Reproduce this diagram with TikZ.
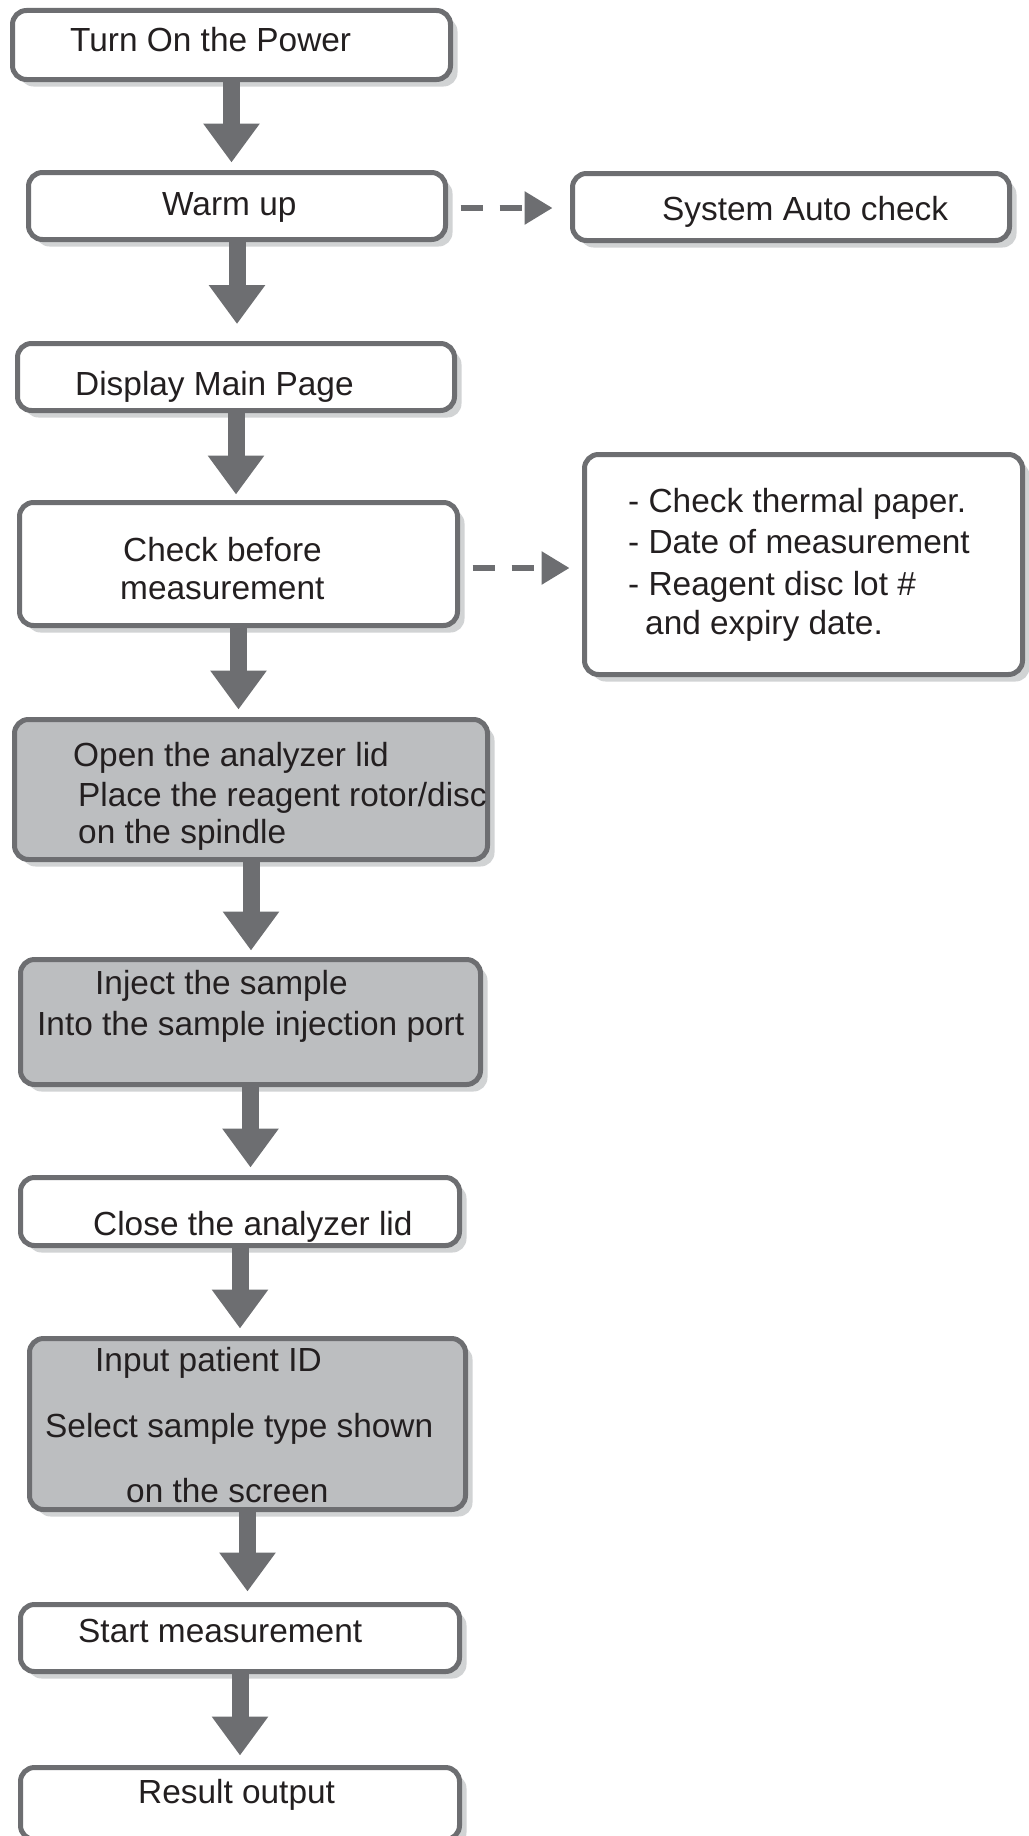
\documentclass[tikz,border=0pt]{standalone}
\usepackage{fontspec}
\setmainfont{Liberation Sans}
\usetikzlibrary{arrows.meta,shadows}
\definecolor{bord}{HTML}{6D6E71}
\definecolor{grayfill}{HTML}{BCBEC0}
\definecolor{shad}{HTML}{D1D3D4}
\definecolor{txt}{HTML}{231F20}
\tikzset{
  wbox/.style={draw=bord, line width=5pt, rounded corners=14pt, fill=white, inner sep=0pt,
    drop shadow={shadow xshift=7pt, shadow yshift=-7pt, fill=shad, opacity=1}},
  gbox/.style={wbox, fill=grayfill},
  lbl/.style={anchor=base west, font=\fontsize{33.4}{39}\selectfont, text=txt, inner sep=0pt},
  flow/.style={draw=bord, line width=17pt, -{Triangle[length=39pt,width=54pt]}},
  sidearrow/.style={draw=bord, line width=6pt, dash pattern=on 22pt off 17pt, -{Triangle[length=28pt,width=32pt]}}
}
\begin{document}
\begin{tikzpicture}[x=1pt,y=-1pt]
\useasboundingbox (0,0) rectangle (1028,1836);
% boxes
\node[wbox, minimum width=438pt, minimum height=69pt] (b1) at (231.5,45) {};
\node[wbox, minimum width=417pt, minimum height=67pt] (b2) at (237,206) {};
\node[wbox, minimum width=437pt, minimum height=67pt] (b3) at (236,377) {};
\node[wbox, minimum width=438pt, minimum height=123pt] (b4) at (238.5,564) {};
\node[gbox, minimum width=473pt, minimum height=140pt] (b5) at (251,789.5) {};
\node[gbox, minimum width=460pt, minimum height=125pt] (b6) at (250.5,1022) {};
\node[wbox, minimum width=439pt, minimum height=68pt] (b7) at (240,1211.5) {};
\node[gbox, minimum width=436pt, minimum height=171pt] (b8) at (247.5,1424) {};
\node[wbox, minimum width=439pt, minimum height=67pt] (b9) at (240,1638) {};
\node[wbox, minimum width=439pt, minimum height=72pt] (b10) at (240,1803.5) {};
\node[wbox, minimum width=437pt, minimum height=67pt] (sac) at (791,207) {};
\node[wbox, minimum width=438pt, minimum height=220pt] (rb) at (803.5,564.5) {};
% texts
\node[lbl] (t1) at (70,52) {Turn On the Power};
\node[lbl] (t2) at (162,215) {Warm up};
\node[lbl] (t3) at (75,395) {Display Main Page};
\node[lbl] (t4a) at (123,561) {Check before};
\node[lbl] (t4b) at (120,599) {measurement};
\node[lbl] (t5a) at (73,766) {Open the analyzer lid};
\node[lbl] (t5b) at (78,806) {Place the reagent rotor/disc};
\node[lbl] (t5c) at (78,843) {on the spindle};
\node[lbl] (t6a) at (95,994) {Inject the sample};
\node[lbl] (t6b) at (37,1035) {Into the sample injection port};
\node[lbl] (t7) at (93,1235) {Close the analyzer lid};
\node[lbl] (t8a) at (95,1371) {Input patient ID};
\node[lbl] (t8b) at (45,1437) {Select sample type shown};
\node[lbl] (t8c) at (126,1502) {on the screen};
\node[lbl] (t9) at (78,1642) {Start measurement};
\node[lbl] (t10) at (138,1803) {Result output};
\node[lbl] (ts) at (662,220) {System Auto check};
\node[lbl] (tr1) at (628,512) {- Check thermal paper.};
\node[lbl] (tr2) at (628,553) {- Date of measurement};
\node[lbl] (tr3) at (628,595) {- Reagent disc lot \#};
\node[lbl] (tr4) at (645,634) {and expiry date.};
% flow arrows
\draw[flow, shorten >=7.5pt] (b1.south) -- (b1.south |- b2.north);
\draw[flow, shorten >=17pt] (b2.south) -- (b2.south |- b3.north);
\draw[flow, shorten >=5.5pt] (b3.south) -- (b3.south |- b4.north);
\draw[flow, shorten >=7.5pt] (b4.south) -- (b4.south |- b5.north);
\draw[flow, shorten >=6.5pt] (b5.south) -- (b5.south |- b6.north);
\draw[flow, shorten >=7.5pt] (b6.south) -- (b6.south |- b7.north);
\draw[flow, shorten >=7.5pt] (b7.south) -- (b7.south |- b8.north);
\draw[flow, shorten >=10.5pt] (b8.south) -- (b8.south |- b9.north);
\draw[flow, shorten >=9.5pt] (b9.south) -- (b9.south |- b10.north);
% side dashed arrows
\draw[sidearrow, shorten <=12.5pt, shorten >=17.5pt] ([yshift=-2pt]b2.east) -- ([yshift=-2pt]b2.east -| sac.west);
\draw[sidearrow, shorten <=12.5pt, shorten >=12.5pt] ([yshift=-4pt]b4.east) -- ([yshift=-4pt]b4.east -| rb.west);
\end{tikzpicture}
\end{document}
